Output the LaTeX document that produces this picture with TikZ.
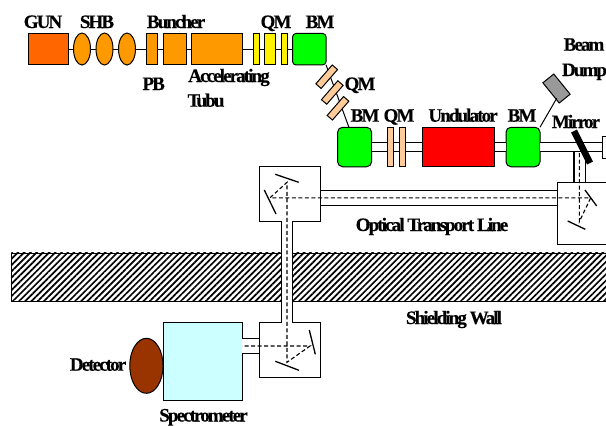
\documentclass[tikz,border=0pt]{standalone}
\usepackage{fontspec}
\setmainfont[LetterSpace=-10, BoldFeatures={FakeBold=0.35}]{Liberation Serif}
\usetikzlibrary{patterns.meta, shapes.geometric, calc}
\definecolor{gunred}{HTML}{FF6600}
\definecolor{rforange}{HTML}{FF9900}
\definecolor{qmtan}{HTML}{FFCC99}
\definecolor{specblue}{HTML}{CCFFFF}
\definecolor{detbrown}{HTML}{993300}
\tikzset{
  part/.style={draw=black, line width=1pt, inner sep=0pt, outer sep=0pt},
  tag/.style={font=\bfseries\fontsize{19}{19}\selectfont, inner sep=0pt, anchor=base},
  beamline/.style={black, line width=1pt},
  pipe/.style={draw=black, line width=1.3pt, double=white},
  ray/.style={black, line width=1.1pt, dash pattern=on 4pt off 2.5pt},
  mirrorface/.style={black, line width=1.3pt}
}

\begin{document}
\begin{tikzpicture}[x=1pt, y=-1pt]
    \useasboundingbox (0,0) rectangle (606,426);
    \clip (0,0) rectangle (606,426);

    % --- Shielding wall ---
    \node[draw=black, line width=0.6pt, inner sep=0pt, minimum width=620pt, minimum height=48pt, anchor=north west,
      pattern={Lines[angle=45, distance=4.4pt, line width=1.7pt]}] (wall) at (10.5,252) {};

    % --- Injector line ---
    \draw[beamline] (30,49) -- (310,49);
    \node[part, fill=gunred, minimum width=40pt, minimum height=31.5pt] (gun) at (48,49.2) {};
    \foreach \nm/\xx in {a/82, b/104.5, c/127} {
      \node[part, ellipse, fill=rforange, minimum width=17pt, minimum height=32pt] (shb\nm) at (\xx,49) {};
    }
    \node[part, fill=rforange, minimum width=11.5pt, minimum height=31.5pt] (pb) at (152.2,49.2) {};
    \node[part, fill=rforange, minimum width=23pt, minimum height=31.5pt] (buncher) at (174.5,49.2) {};
    \node[part, fill=rforange, minimum width=50.5pt, minimum height=31.5pt] (tube) at (216.8,49.2) {};
    \node[part, fill=yellow, minimum width=6pt, minimum height=31.5pt] (qma) at (256,49.2) {};
    \node[part, fill=yellow, minimum width=11.5pt, minimum height=31.5pt] (qmb) at (270.2,49.2) {};
    \node[part, fill=yellow, minimum width=6pt, minimum height=31.5pt] (qmc) at (284,49.2) {};
    \node[part, fill=green, rounded corners=3.5pt, minimum width=33.5pt, minimum height=31.5pt] (bma) at (309.3,49.2) {};

    % --- Undulator line ---
    \node[part, fill=green, rounded corners=5pt, minimum width=34pt, minimum height=39.5pt] (bmb) at (354.6,147) {};
    \node[part, fill=green, rounded corners=5pt, minimum width=34pt, minimum height=39.5pt] (bmc) at (523,147) {};
    \coordinate (bmbIn) at (349,127.5);
    \draw[beamline] (bma.south east) -- (bmbIn);
    \foreach \nm/\xx/\yy in {a/326.7/76.7, b/332.3/92.5, c/338/108.3} {
      \node[part, fill=qmtan, rotate=49, minimum width=25pt, minimum height=7pt] (qmd\nm) at (\xx,\yy) {};
    }
    \node[part, fill=white, minimum width=40pt, minimum height=22pt, anchor=west] (endbox) at (602,147) {};
    \draw[pipe, double distance=8pt] (bmb.east) -- (bmc.west);
    \draw[pipe, double distance=8pt] (bmc.east) -- (endbox.west);
    \node[part, fill=qmtan, minimum width=5.7pt, minimum height=39.5pt] (qme) at (390.8,147) {};
    \node[part, fill=qmtan, minimum width=5.7pt, minimum height=39.5pt] (qmf) at (402.2,147) {};
    \node[part, fill=red, minimum width=72.7pt, minimum height=39.5pt] (undulator) at (458.4,147) {};

    % --- Beam dump ---
    \node[part, fill=black!40, rotate=-51, minimum width=26pt, minimum height=14pt] (dump) at (556.5,88.5) {};
    \coordinate (dumpIn) at (556.7,98.3);
    \draw[beamline] (bmc.north east) -- (dumpIn);

    % --- Optical boxes ---
    \node[part, fill=white, minimum width=61.5pt, minimum height=54.5pt] (boxa) at (290,194) {};
    \node[part, fill=white, minimum width=62pt, minimum height=62.5pt, anchor=north west] (boxb) at (557,182) {};
    \node[part, fill=white, minimum width=61.5pt, minimum height=55pt] (boxc) at (290,350.2) {};
    \node[part, fill=specblue, minimum width=78.7pt, minimum height=78.3pt] (spec) at (202.7,361.8) {};
    \node[part, ellipse, fill=detbrown, minimum width=33.3pt, minimum height=55pt] (detector) at (146.4,365.8) {};

    % --- Optical pipes ---
    \coordinate (pipeTop) at (579.5,152);
    \coordinate (wallTop) at (287,221);
    \draw[pipe, double distance=10pt] (pipeTop) -- (pipeTop |- boxb.north);
    \draw[pipe, double distance=13.5pt] (boxa.east |- 0,197.8) -- (boxb.west |- 0,197.8);
    \draw[pipe, double distance=9.5pt] (wallTop) -- (wallTop |- boxc.north);
    \draw[pipe, double distance=13.5pt] (spec.east |- 0,346) -- (boxc.west |- 0,346);

    % --- Mirrors ---
    \draw[black, line width=6.5pt] (574,131) -- (590,163);
    \coordinate (upA) at (275.3,174.3);
    \coordinate (upB) at (298.7,182.3);
    \coordinate (sideA) at (264.3,190);
    \coordinate (sideB) at (276,214);
    \draw[mirrorface] (upA) -- (upB);
    \draw[mirrorface] (sideA) -- (sideB);
    \draw[mirrorface] (585,190) -- (596.7,206);
    \draw[mirrorface] (567.7,221) -- (585.3,229.3);
    \draw[mirrorface] (309.3,330) -- (315.3,354.3);
    \draw[mirrorface] (275.3,361.3) -- (299,370.3);

    % --- Light path ---
    \coordinate (hitA) at (590.7,197.8);
    \coordinate (hitB) at (579.3,221.7);
    \coordinate (hitC) at (270,197.8);
    \coordinate (hitD) at (287,182.3);
    \coordinate (hitE) at (287,362.3);
    \coordinate (hitF) at (310,346);
    \draw[ray] (579.3,153) -- (hitB) -- (hitA) -- (hitC) -- (hitD) -- (hitE) -- (hitF) -- (spec.east |- hitF);

    % --- Labels ---
    \foreach \nm/\xx/\yy/\txt in {gun/43/28/GUN, shb/97/28/SHB, buncher/176/28/Buncher, qm/276/28/QM,
      bm/320/28/BM, pb/153.7/90/PB, accel/229/82/Accelerating, tubu/206/106.7/Tubu, qmdiag/360/90/QM,
      bmb/365/121.7/BM, qmund/399/121.7/QM, und/463/121.7/Undulator, bmc/522/121.7/BM,
      mirror/576/128/Mirror, beam/584/50.7/Beam, dump/584.5/76/Dump, optical/432/231/Optical Transport Line,
      wall/454/324/Shielding Wall, det/98/370.7/Detector, spec/203.5/421.5/Spectrometer} {
      \node[tag] (lab\nm) at (\xx,\yy) {\txt};
    }

\end{tikzpicture}
\end{document}
